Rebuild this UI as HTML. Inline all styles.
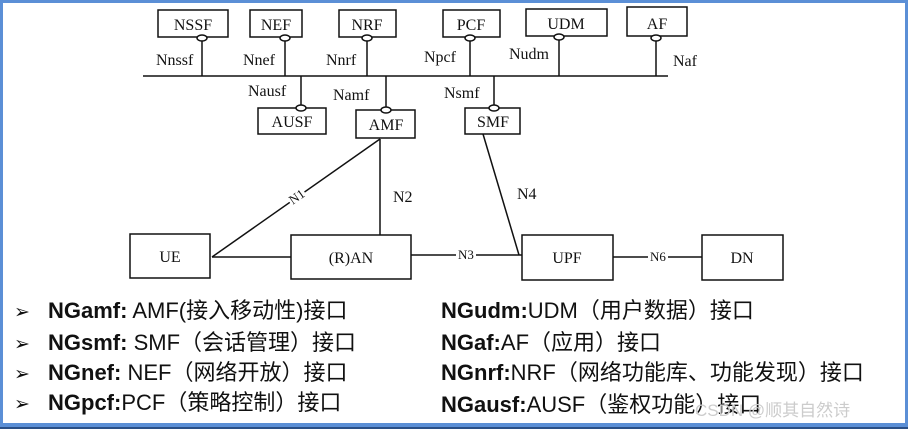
<!DOCTYPE html>
<html><head><meta charset="utf-8"><style>
html,body{margin:0;padding:0;background:#fff}
svg{display:block}
.s{font-family:"Liberation Serif","Noto Serif CJK SC",serif;font-size:16px;fill:#111}
.b{font-family:"Liberation Sans","Noto Sans CJK SC",sans-serif;font-size:22px;fill:#111}
</style></head><body>
<svg width="908" height="429" viewBox="0 0 908 429" xmlns="http://www.w3.org/2000/svg">
<rect x="0" y="0" width="908" height="429" fill="#fff"/>
<rect x="0" y="0" width="908" height="3" fill="#5b8fd6"/>
<rect x="0" y="0" width="3" height="429" fill="#5b8fd6"/>
<rect x="905" y="0" width="3" height="429" fill="#5b8fd6"/>
<rect x="0" y="423" width="908" height="6" fill="#5b8fd6"/>
<rect x="0" y="427" width="908" height="2" fill="#2a4f86"/>
<g stroke="#111" stroke-width="1.5" fill="#fff">
<rect x="158" y="10" width="70" height="27"/>
<rect x="250" y="10" width="52" height="27"/>
<rect x="339" y="10" width="57" height="27"/>
<rect x="443" y="10" width="57" height="27"/>
<rect x="526" y="9" width="81" height="27"/>
<rect x="627" y="7" width="60" height="29"/>
<line x1="143" y1="76" x2="668" y2="76"/>
<line x1="202" y1="38" x2="202" y2="76"/>
<line x1="285" y1="38" x2="285" y2="76"/>
<line x1="367" y1="38" x2="367" y2="76"/>
<line x1="470" y1="38" x2="470" y2="76"/>
<line x1="559" y1="37" x2="559" y2="76"/>
<line x1="656" y1="38" x2="656" y2="76"/>
<ellipse cx="202" cy="38" rx="5" ry="3"/>
<ellipse cx="285" cy="38" rx="5" ry="3"/>
<ellipse cx="367" cy="38" rx="5" ry="3"/>
<ellipse cx="470" cy="38" rx="5" ry="3"/>
<ellipse cx="559" cy="37" rx="5" ry="3"/>
<ellipse cx="656" cy="38" rx="5" ry="3"/>
<line x1="301" y1="76" x2="301" y2="108"/>
<line x1="386" y1="76" x2="386" y2="110"/>
<line x1="494" y1="76" x2="494" y2="108"/>
<rect x="258" y="108" width="68" height="26"/>
<rect x="356" y="110" width="59" height="28"/>
<rect x="465" y="108" width="55" height="26"/>
<ellipse cx="301" cy="108" rx="5" ry="3"/>
<ellipse cx="386" cy="110" rx="5" ry="3"/>
<ellipse cx="494" cy="108" rx="5" ry="3"/>
<line x1="212" y1="257" x2="380" y2="139"/>
<line x1="380" y1="139" x2="380" y2="235"/>
<line x1="212" y1="257" x2="291" y2="257"/>
<line x1="411" y1="255" x2="522" y2="255"/>
<line x1="483" y1="134" x2="519" y2="255"/>
<line x1="613" y1="257" x2="702" y2="257"/>
<rect x="130" y="234" width="80" height="44"/>
<rect x="291" y="235" width="120" height="44"/>
<rect x="522" y="235" width="91" height="45"/>
<rect x="702" y="235" width="81" height="45"/>
</g>
<g class="s">
<text x="193" y="30" text-anchor="middle">NSSF</text>
<text x="276" y="30" text-anchor="middle">NEF</text>
<text x="367" y="30" text-anchor="middle">NRF</text>
<text x="471" y="30" text-anchor="middle">PCF</text>
<text x="566" y="29" text-anchor="middle">UDM</text>
<text x="657" y="29" text-anchor="middle">AF</text>
<text x="156" y="65">Nnssf</text>
<text x="243" y="65">Nnef</text>
<text x="326" y="65">Nnrf</text>
<text x="424" y="62">Npcf</text>
<text x="509" y="59">Nudm</text>
<text x="673" y="66">Naf</text>
<text x="248" y="96">Nausf</text>
<text x="333" y="100">Namf</text>
<text x="444" y="98">Nsmf</text>
<text x="292" y="127" text-anchor="middle">AUSF</text>
<text x="386" y="130" text-anchor="middle">AMF</text>
<text x="493" y="127" text-anchor="middle">SMF</text>
<text x="393" y="202">N2</text>
<text x="517" y="199">N4</text>
<text x="170" y="262" text-anchor="middle">UE</text>
<text x="351" y="263" text-anchor="middle">(R)AN</text>
<text x="567" y="263" text-anchor="middle">UPF</text>
<text x="742" y="263" text-anchor="middle">DN</text>
</g>
<g class="s" style="font-size:13px">
<rect x="456" y="247" width="20" height="14" fill="#fff"/>
<text x="466" y="259" text-anchor="middle">N3</text>
<rect x="648" y="249" width="20" height="14" fill="#fff"/>
<text x="658" y="261" text-anchor="middle">N6</text>
<g transform="translate(297,197) rotate(-35)"><rect x="-9" y="-8" width="18" height="14" fill="#fff"/><text x="0" y="4" text-anchor="middle">N1</text></g>
</g>
<g class="b">
<text x="14" y="318" style="font-size:19px">➢</text>
<text x="14" y="350" style="font-size:19px">➢</text>
<text x="14" y="380" style="font-size:19px">➢</text>
<text x="14" y="410" style="font-size:19px">➢</text>
<text x="48" y="318"><tspan font-weight="bold">NGamf:</tspan> AMF(接入移动性)接口</text>
<text x="48" y="350"><tspan font-weight="bold">NGsmf:</tspan>  SMF（会话管理）接口</text>
<text x="48" y="380"><tspan font-weight="bold">NGnef:</tspan> NEF（网络开放）接口</text>
<text x="48" y="410"><tspan font-weight="bold">NGpcf:</tspan>PCF（策略控制）接口</text>
<text x="441" y="318"><tspan font-weight="bold">NGudm:</tspan>UDM（用户数据）接口</text>
<text x="441" y="350"><tspan font-weight="bold">NGaf:</tspan>AF（应用）接口</text>
<text x="441" y="380"><tspan font-weight="bold">NGnrf:</tspan>NRF（网络功能库、功能发现）接口</text>
<text x="441" y="412"><tspan font-weight="bold">NGausf:</tspan>AUSF（鉴权功能）接口</text>
</g>
<text x="695" y="416" style="font-family:'Liberation Sans','Noto Sans CJK SC',sans-serif;font-size:17px;fill:#ccc">CSDN @顺其自然诗</text>
</svg>
</body></html>
